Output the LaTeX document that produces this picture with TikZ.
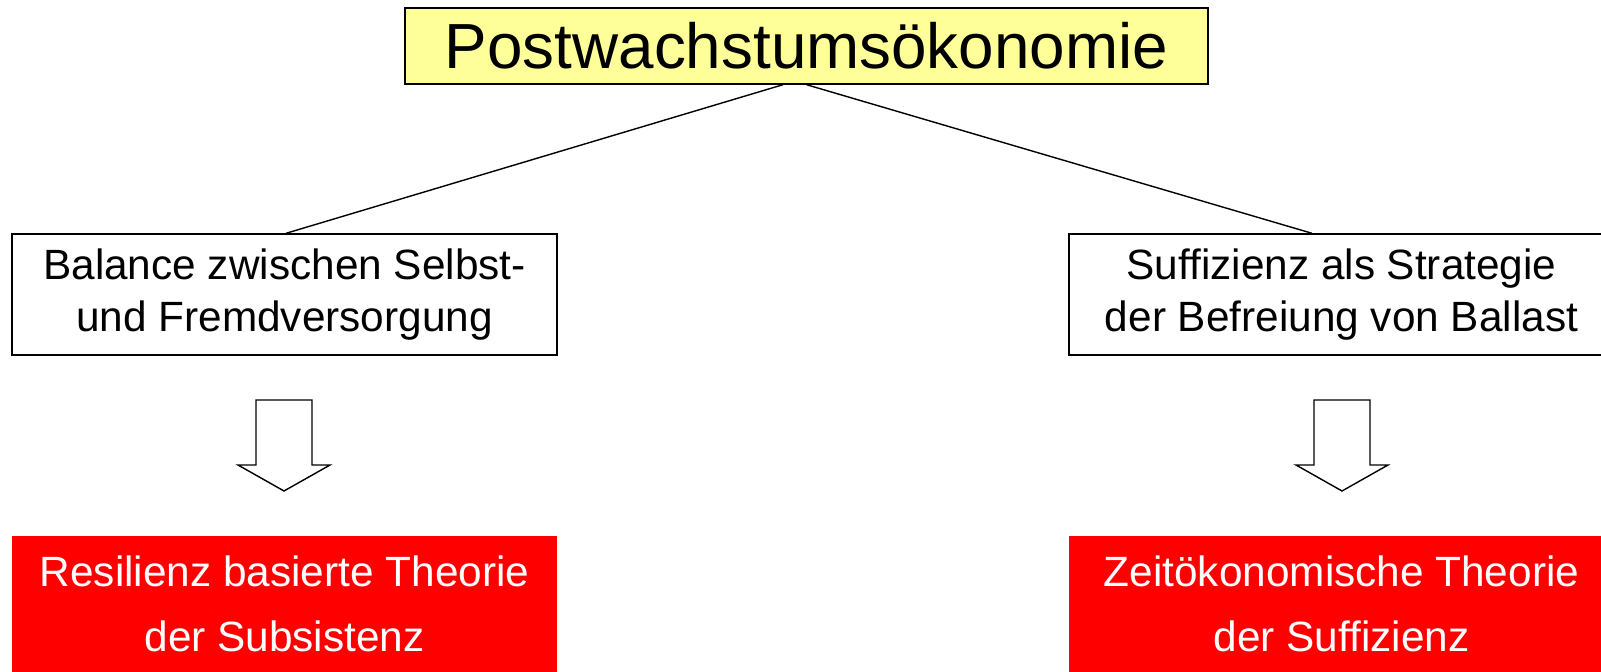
\documentclass[tikz,border=0pt]{standalone}
\usepackage{fontspec}
\setmainfont{Liberation Sans}
\definecolor{paleyellow}{RGB}{255,255,153}

\begin{document}
\begin{tikzpicture}[x=0.02cm, y=-0.02cm,
    topbox/.style={draw, line width=0.8pt, fill=paleyellow, inner sep=0pt,
        minimum width=16.06cm, minimum height=1.52cm,
        font=\fontsize{36.3}{43}\selectfont},
    midbox/.style={draw, line width=0.8pt, fill=white, align=center, inner sep=0pt,
        minimum width=10.9cm, minimum height=2.42cm,
        font=\fontsize{24.1}{29.5}\selectfont},
    theorybox/.style={fill=red, text=white, align=center, inner sep=0pt,
        minimum width=10.9cm, minimum height=2.72cm,
        font=\fontsize{24.1}{37}\selectfont}]
    \useasboundingbox (0,0) rectangle (1601,672);

    \node[topbox] (pw) at (806.5,46) {Postwachstumsökonomie};
    \node[midbox] (balance) at (284.5,294.5) {Balance zwischen Selbst-\\und Fremdversorgung};
    \node[midbox] (suff) at (1341.5,294.5) {Suffizienz als Strategie\\der Befreiung von Ballast};
    \node[theorybox] (resil) at (284.5,604) {Resilienz basierte Theorie\\der Subsistenz};
    \node[theorybox] (zeit) at (1341.5,604) {Zeitökonomische Theorie\\der Suffizienz};

    \draw[line width=0.8pt] ([xshift=-0.47cm]pw.south) -- ([xshift=0.03cm]balance.north);
    \draw[line width=0.8pt] (pw.south) -- ([xshift=-0.59cm]suff.north);

    \foreach \x in {284,1342} {
        \draw[line width=0.8pt]
            ({\x-28}, 400)
            -- ({\x+28}, 400)
            -- ({\x+28}, 465)
            -- ({\x+46}, 465)
            -- (\x, 491)
            -- ({\x-46}, 465)
            -- ({\x-28}, 465)
            -- cycle;
    }
\end{tikzpicture}
\end{document}
